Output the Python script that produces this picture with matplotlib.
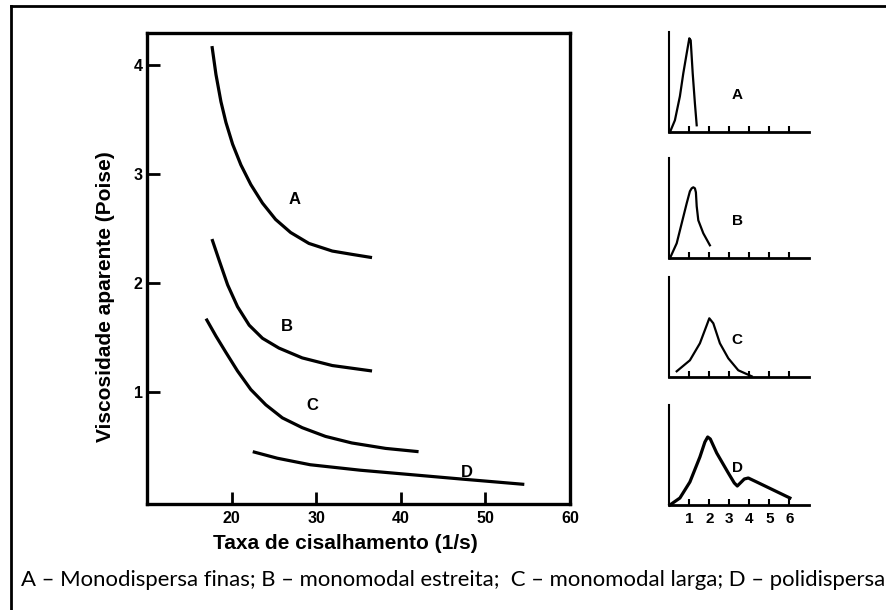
import matplotlib
matplotlib.use('Agg')
import matplotlib.pyplot as plt
from matplotlib.lines import Line2D

plt.rcParams['font.family'] = ['Liberation Sans', 'DejaVu Sans']

# curvas de viscosidade (taxa de cisalhamento 1/s, viscosidade Poise)
xA = [17.68, 18.15, 18.74, 19.33, 20.12, 21.1, 22.27, 23.65, 25.2, 26.98, 29.14, 31.9, 34.2, 36.6]
yA = [4.17, 3.91, 3.66, 3.47, 3.27, 3.08, 2.90, 2.73, 2.58, 2.46, 2.36, 2.29, 2.26, 2.23]
xB = [17.68, 18.55, 19.53, 20.7, 22.08, 23.65, 25.6, 28.35, 31.9, 36.6]
yB = [2.40, 2.20, 1.98, 1.78, 1.61, 1.49, 1.40, 1.31, 1.24, 1.19]
xC = [16.98, 18.15, 19.33, 20.7, 22.27, 24.04, 26.0, 28.35, 31.1, 34.2, 38.2, 42.1]
yC = [1.67, 1.51, 1.36, 1.19, 1.02, 0.88, 0.76, 0.67, 0.59, 0.53, 0.48, 0.45]
xD = [22.5, 25.4, 29.3, 35.2, 41.1, 47.0, 54.6]
yD = [0.45, 0.39, 0.33, 0.28, 0.24, 0.20, 0.15]
curvas = [('A', xA, yA, 27.4, 2.76), ('B', xB, yB, 26.5, 1.60),
          ('C', xC, yC, 29.5, 0.87), ('D', xD, yD, 47.8, 0.26)]

# distribuicoes de tamanho (graficos pequenos)
dAx = [0.03, 0.28, 0.53, 0.70, 0.87, 1.0, 1.07, 1.17, 1.28, 1.37]
dAy = [0.0, 0.12, 0.36, 0.59, 0.79, 0.94, 0.92, 0.59, 0.29, 0.07]
dBx = [0.03, 0.37, 0.62, 0.87, 1.03, 1.12, 1.2, 1.28, 1.33, 1.37, 1.45, 1.7, 2.03]
dBy = [0.0, 0.15, 0.35, 0.55, 0.67, 0.70, 0.71, 0.70, 0.66, 0.52, 0.38, 0.25, 0.13]
dCx = [0.37, 1.03, 1.53, 1.87, 2.0, 2.2, 2.53, 2.95, 3.45, 4.12]
dCy = [0.06, 0.17, 0.34, 0.52, 0.59, 0.54, 0.34, 0.19, 0.07, 0.01]
dDx = [0.03, 0.53, 1.03, 1.53, 1.78, 1.92, 2.05, 2.37, 2.95, 3.25, 3.4, 3.55, 3.75, 3.95, 4.37, 5.2, 6.03]
dDy = [0.0, 0.07, 0.23, 0.48, 0.63, 0.68, 0.66, 0.52, 0.32, 0.22, 0.19, 0.22, 0.26, 0.27, 0.23, 0.15, 0.07]
dist = [('A', dAx, dAy), ('B', dBx, dBy), ('C', dCx, dCy), ('D', dDx, dDy)]
dist_ticks = [1, 2, 3, 4, 5, 6]

legenda = 'A – Monodispersa finas; B – monomodal estreita;  C – monomodal larga; D – polidispersa'

fig = plt.figure(figsize=(8.86, 6.1), dpi=100)
W, H = 886, 610

# moldura externa (esquerda e topo)
fig.add_artist(Line2D([11 / W, 11 / W], [0, 1 - 6 / H], color='black', lw=2, transform=fig.transFigure))
fig.add_artist(Line2D([11 / W, 1], [1 - 6 / H, 1 - 6 / H], color='black', lw=2, transform=fig.transFigure))

ax = fig.add_axes([147 / W, 1 - 504 / H, (570 - 147) / W, (504 - 33) / H])
for nome, xs, ys, lx, ly in curvas:
    ax.plot(xs, ys, color='black', lw=2.3, solid_capstyle='butt', solid_joinstyle='round')
    ax.text(lx, ly, nome, fontsize=12, fontweight='bold', ha='center', va='center')
ax.set_xlim(10, 60)
ax.set_ylim(-0.03, 4.29)
ax.set_xticks([20, 30, 40, 50, 60])
ax.set_yticks([1, 2, 3, 4])
ax.tick_params(direction='in', length=9, width=2, labelsize=11.5, colors='black')
ax.tick_params(axis='x', pad=5)
ax.tick_params(axis='y', pad=3)
for lab in ax.get_xticklabels() + ax.get_yticklabels():
    lab.set_fontweight('bold')
for s in ax.spines.values():
    s.set_linewidth(2.4)
ax.set_xlabel('Taxa de cisalhamento (1/s)', fontsize=15, fontweight='bold')
ax.set_ylabel('Viscosidade aparente (Poise)', fontsize=15, fontweight='bold')
ax.xaxis.set_label_coords(0.468, -0.083)
ax.xaxis.label.set_va('center')
ax.yaxis.set_label_coords(-0.099, 0.44)
ax.yaxis.label.set_va('center')

bases = [132.3, 258.3, 377.3, 505]
for i, (nome, xs, ys) in enumerate(dist):
    b = bases[i]
    a = fig.add_axes([669.3 / W, 1 - b / H, 140 / W, 100 / H])
    a.plot(xs, ys, color='black', lw=2.3 if nome == 'D' else 1.6, clip_on=False,
           solid_joinstyle='round')
    a.text(3.4, 0.37, nome, fontsize=11, fontweight='bold', ha='center', va='center')
    a.set_xlim(0, 7)
    a.set_ylim(0, 1)
    a.spines['top'].set_visible(False)
    a.spines['right'].set_visible(False)
    a.spines['left'].set_linewidth(1.5)
    a.spines['bottom'].set_linewidth(2.0)
    a.set_yticks([])
    a.set_xticks(dist_ticks)
    a.tick_params(axis='x', direction='in', length=4, width=1.5, pad=5, labelsize=11)
    if nome == 'D':
        for lab in a.get_xticklabels():
            lab.set_fontweight('bold')
    else:
        a.set_xticklabels([])

t = fig.text(21 / W, 1 - 580 / H, legenda, fontsize=15, family=['Lato', 'DejaVu Sans'],
             ha='left', va='center')
fig.canvas.draw()
largura = t.get_window_extent().width
t.set_fontsize(15 * 867 / largura)

fig.savefig('out.png', dpi=100)
